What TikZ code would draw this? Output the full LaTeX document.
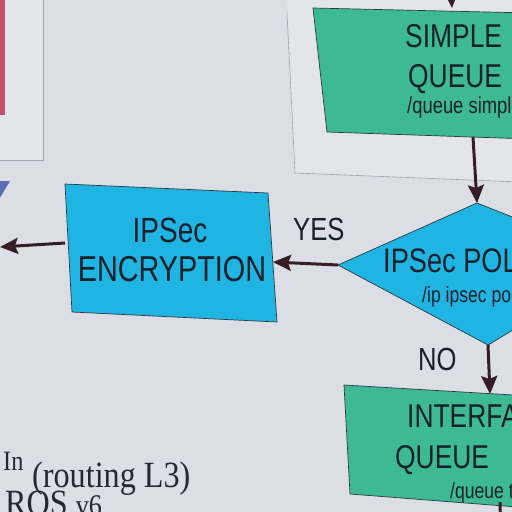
\documentclass[tikz,border=0pt]{standalone}
\usepackage{fontspec}
\setmainfont{Liberation Sans}
\newfontfamily\boxfont[FakeStretch=0.8]{Liberation Sans}
\newfontfamily\notefont[FakeStretch=0.87]{Liberation Serif}
\usetikzlibrary{arrows.meta}

\definecolor{paper}{HTML}{DCDEE6}
\definecolor{panel}{HTML}{E4E5EA}
\definecolor{panelline}{HTML}{A0A3AC}
\definecolor{qgreen}{HTML}{3DB994}
\definecolor{ipblue}{HTML}{20B4E2}
\definecolor{flowline}{HTML}{361C24}
\definecolor{boxline}{HTML}{2C3A40}
\definecolor{inktext}{HTML}{17212B}
\definecolor{notetext}{HTML}{262733}
\definecolor{alert}{HTML}{C2506B}
\definecolor{slate}{HTML}{5B6DB5}

\tikzset{
  outlined/.style={draw=boxline, line width=0.7pt},
  flow/.style={draw=flowline, line width=3pt,
    -{Stealth[length=18pt,width=16pt,inset=3pt]}},
  boxtxt/.style={inner sep=0pt, anchor=base west, text=inktext},
  bigtxt/.style={boxtxt, font=\boxfont\fontsize{33}{33}\selectfont},
  smalltxt/.style={boxtxt, font=\boxfont\fontsize{23}{23}\selectfont},
  notetxt/.style={inner sep=0pt, anchor=base west, text=notetext,
    font=\notefont\fontsize{37}{37}\selectfont},
}

\begin{document}
\begin{tikzpicture}[x=1pt,y=-1pt]
\useasboundingbox (0,0) rectangle (512,512);
\clip (0,0) rectangle (512,512);
\fill[paper] (0,0) rectangle (512,512);

% grey panels behind the flow boxes
\fill[panel] (-5,-5) rectangle (43,160);
\draw[panelline, line width=0.6pt] (43,-5) -- (43,160) -- (-5,160);
\fill[alert] (-5,-5) rectangle (5,115);
\fill[panel] (287,-5) -- (520,-5) -- (520,182) -- (295,173) -- cycle;
\draw[panelline, line width=0.6pt] (287,13) -- (295,173) -- (520,182);

% partly visible shape at the left edge
\fill[slate] (-5,181) -- (10,181) -- (-5,206) -- cycle;

% corner points of the boxes
\coordinate (sqTL) at (313,8);   \coordinate (sqTR) at (530,13);
\coordinate (sqBR) at (530,139); \coordinate (sqBL) at (327,132);
\coordinate (sqIn) at (452,8);   \coordinate (sqOut) at (473,137);

\coordinate (encTL) at (65,184);  \coordinate (encTR) at (268,193);
\coordinate (encBR) at (277,322); \coordinate (encBL) at (72,312);
\coordinate (encIn) at (273,262); \coordinate (encOut) at (65,243);

\coordinate (polW) at (338,265); \coordinate (polN) at (477,203);
\coordinate (polE) at (626,262); \coordinate (polS) at (488,345);

\coordinate (ifTL) at (344,385);  \coordinate (ifTR) at (530,396);
\coordinate (ifBR) at (530,508);  \coordinate (ifBL) at (350,494);
\coordinate (ifIn) at (490,394);  \coordinate (ifOut) at (500,502);

\coordinate (fromAbove) at (450,-30);
\coordinate (toLeft) at (0,247);
\coordinate (toBelow) at (501,540);

% boxes
\path[outlined, fill=qgreen] (sqTL) -- (sqTR) -- (sqBR) -- (sqBL) -- cycle;
\path[outlined, fill=ipblue] (encTL) -- (encTR) -- (encBR) -- (encBL) -- cycle;
\path[outlined, fill=ipblue] (polW) -- (polN) -- (polE) -- (polS) -- cycle;
\path[outlined, fill=qgreen] (ifTL) -- (ifTR) -- (ifBR) -- (ifBL) -- cycle;

% connectors
\draw[flow] (fromAbove) -- (sqIn);
\draw[flow] (sqOut) -- (polN);
\draw[flow] (polW) -- (encIn);
\draw[flow] (encOut) -- (toLeft);
\draw[flow] (polS) -- (ifIn);
\draw[draw=flowline, line width=3pt] (ifOut) -- (toBelow);

% box texts
\node[bigtxt] (sqA) at (405,47) {SIMPLE};
\node[bigtxt] (sqB) at (408,87) {QUEUE};
\node[smalltxt] (sqC) at (407,113) {/queue simple};

\node[boxtxt, anchor=base, font=\boxfont\fontsize{35}{35}\selectfont] (encA) at (170,242) {IPSec};
\node[boxtxt, anchor=base, font=\boxfont\fontsize{36}{36}\selectfont] (encB) at (172,281) {ENCRYPTION};

\node[bigtxt, font=\boxfont\fontsize{34}{34}\selectfont] (polA) at (383,272) {IPSec POLICY};
\node[smalltxt, font=\boxfont\fontsize{22}{22}\selectfont] (polB) at (422,302) {/ip ipsec policy};

\node[bigtxt] (ifA) at (407,427) {INTERFACE};
\node[bigtxt] (ifB) at (395,468) {QUEUE};
\node[smalltxt, font=\boxfont\fontsize{22}{22}\selectfont] (ifC) at (450,498) {/queue tree};

% branch labels
\node[bigtxt, font=\boxfont\fontsize{32}{32}\selectfont] (yes) at (293,240) {YES};
\node[bigtxt, font=\boxfont\fontsize{32}{32}\selectfont] (no) at (418,370) {NO};

% note at the bottom left
\node[notetxt, font=\notefont\fontsize{28}{28}\selectfont] (noteA) at (3,470) {In};
\node[notetxt] (noteB) at (32,487) {(routing L3)};
\node[notetxt] (noteC) at (5,515) {ROS \fontsize{30}{30}\selectfont v6};
\end{tikzpicture}
\end{document}
